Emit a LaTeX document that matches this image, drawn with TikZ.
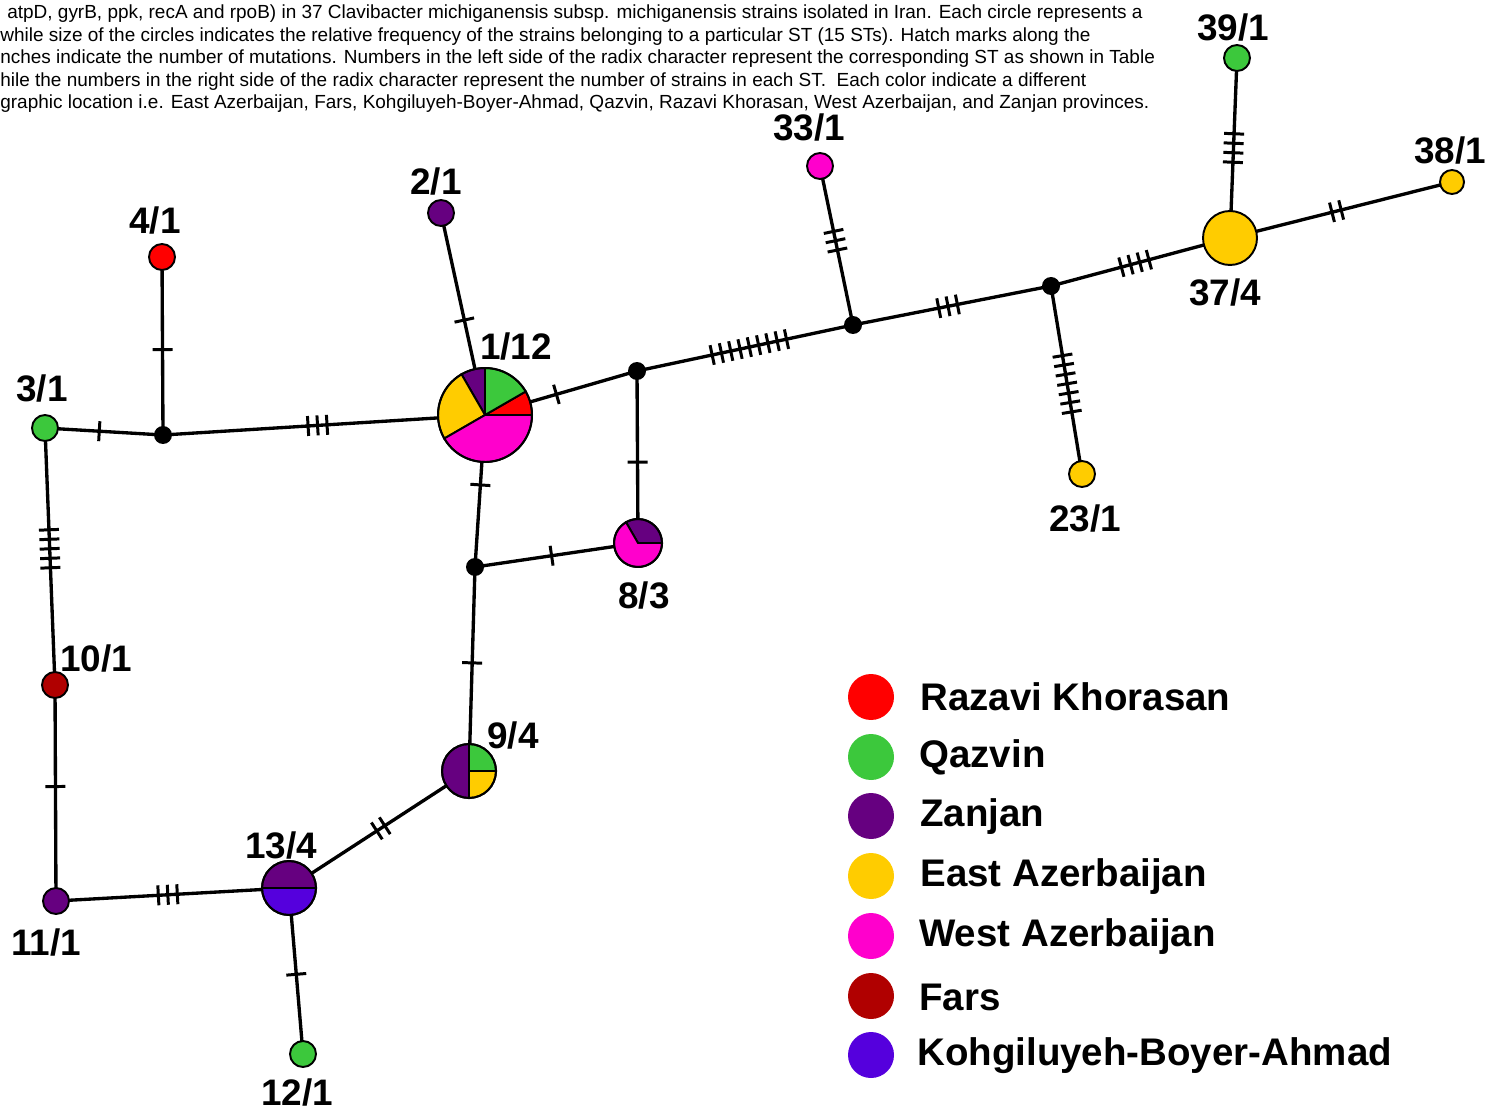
\documentclass[tikz,border=0pt]{standalone}
\usepackage{fontspec}
\setmainfont{Liberation Sans}
\usetikzlibrary{decorations.markings}
\definecolor{cRed}{HTML}{FF0000}
\definecolor{cGreen}{HTML}{3CC83C}
\definecolor{cPurple}{HTML}{660080}
\definecolor{cYellow}{HTML}{FFCC00}
\definecolor{cMagenta}{HTML}{FF00CC}
\definecolor{cFars}{HTML}{B00000}
\definecolor{cBlue}{HTML}{5500DD}
\newcommand\pieslice[5]{\filldraw[fill=#2, draw=black, line width=1.1pt] (#1) -- ++(#3:#5) arc[start angle=#3, end angle=#4, radius=#5] -- cycle;}
\begin{document}
\begin{tikzpicture}[x=0.02cm,y=0.02cm,
  edge/.style={line width=1.9pt},
  hatch/.style 2 args={postaction={decorate}, decoration={markings, mark=at position #1 with {\foreach \k in {1,...,#2}{\draw[line width=1.7pt] ({(\k-(#2+1)/2)*0.19cm},-0.2cm) -- ++(0cm,0.4cm);}}}},
  stnode/.style={circle, draw=black, line width=1.1pt, inner sep=0pt, minimum size=0.52cm},
  junc/.style={circle, fill=black, inner sep=0pt, minimum size=0.36cm},
  lbl/.style={font=\fontsize{21}{25}\selectfont\bfseries, inner sep=0pt},
  captxt/.style={font=\fontsize{10.8}{12}\selectfont, anchor=base west, inner sep=0pt},
  legdot/.style={circle, inner sep=0pt, minimum size=0.92cm},
  legtxt/.style={font=\fontsize{21.9}{25}\selectfont\bfseries, anchor=west, inner sep=0pt}]
\path[use as bounding box] (0,0) rectangle (1487,-1111);

% caption
\node[captxt] (cap1) at (7,-19) {atpD, gyrB, ppk, recA and rpoB) in 37 Clavibacter michiganensis subsp. michiganensis strains isolated in Iran. Each circle represents a};
\node[captxt] (cap2) at (0,-41.5) {while size of the circles indicates the relative frequency of the strains belonging to a particular ST (15 STs). Hatch marks along the};
\node[captxt] (cap3) at (0,-64) {nches indicate the number of mutations. Numbers in the left side of the radix character represent the corresponding ST as shown in Table};
\node[captxt] (cap4) at (0,-86.5) {hile the numbers in the right side of the radix character represent the number of strains in each ST.\ \ Each color indicate a different};
\node[captxt] (cap5) at (0,-109) {graphic location i.e. East Azerbaijan, Fars, Kohgiluyeh-Boyer-Ahmad, Qazvin, Razavi Khorasan, West Azerbaijan, and Zanjan provinces.};

% positions
\coordinate (p39) at (1237,-58);
\coordinate (p38) at (1452,-182);
\coordinate (p33) at (820,-166);
\coordinate (p37) at (1230,-238);
\coordinate (j4) at (1051,-286);
\coordinate (j3) at (853,-325);
\coordinate (p23) at (1082,-474);
\coordinate (j2) at (637,-371);
\coordinate (p1) at (485,-415);
\coordinate (p2) at (441,-213);
\coordinate (p4) at (162,-257);
\coordinate (j1) at (163,-435);
\coordinate (p3) at (45,-428);
\coordinate (p10) at (55,-685);
\coordinate (p11) at (56,-901);
\coordinate (p13) at (289,-888);
\coordinate (p12) at (303,-1054);
\coordinate (p9) at (469,-771);
\coordinate (j5) at (475,-567);
\coordinate (p8) at (638,-543);

% edges
\draw[edge, hatch={0.5}{4}] (p39) -- (p37);
\draw[edge, hatch={0.48}{2}] (p37) -- (p38);
\draw[edge, hatch={0.47}{3}] (p33) -- (j3);
\draw[edge, hatch={0.47}{4}] (j4) -- (p37);
\draw[edge, hatch={0.48}{3}] (j3) -- (j4);
\draw[edge, hatch={0.52}{9}] (j2) -- (j3);
\draw[edge, hatch={0.52}{7}] (j4) -- (p23);
\draw[edge, hatch={0.47}{1}] (p1) -- (j2);
\draw[edge, hatch={0.53}{1}] (j2) -- (p8);
\draw[edge, hatch={0.53}{1}] (p2) -- (p1);
\draw[edge, hatch={0.48}{3}] (j1) -- (p1);
\draw[edge, hatch={0.52}{1}] (p4) -- (j1);
\draw[edge, hatch={0.46}{1}] (p3) -- (j1);
\draw[edge, hatch={0.47}{5}] (p3) -- (p10);
\draw[edge, hatch={0.47}{1}] (p10) -- (p11);
\draw[edge, hatch={0.48}{3}] (p11) -- (p13);
\draw[edge, hatch={0.51}{2}] (p13) -- (p9);
\draw[edge, hatch={0.47}{1}] (j5) -- (p9);
\draw[edge, hatch={0.47}{1}] (j5) -- (p8);
\draw[edge, hatch={0.54}{1}] (j5) -- (p1);
\draw[edge, hatch={0.52}{1}] (p13) -- (p12);

% junctions
\node[junc] (nj1) at (j1) {};
\node[junc] (nj2) at (j2) {};
\node[junc] (nj3) at (j3) {};
\node[junc] (nj4) at (j4) {};
\node[junc] (nj5) at (j5) {};

% single-colour nodes
\node[stnode, fill=cGreen] (n39) at (p39) {};
\node[stnode, fill=cYellow, minimum size=0.48cm] (n38) at (p38) {};
\node[stnode, fill=cMagenta] (n33) at (p33) {};
\node[stnode, fill=cYellow, minimum size=1.08cm] (n37) at (p37) {};
\node[stnode, fill=cYellow] (n23) at (p23) {};
\node[stnode, fill=cPurple] (n2) at (p2) {};
\node[stnode, fill=cRed] (n4) at (p4) {};
\node[stnode, fill=cGreen] (n3) at (p3) {};
\node[stnode, fill=cFars] (n10) at (p10) {};
\node[stnode, fill=cPurple] (n11) at (p11) {};
\node[stnode, fill=cGreen] (n12) at (p12) {};

% pie 1/12
\pieslice{p1}{cRed}{0}{30}{47}
\pieslice{p1}{cGreen}{30}{90}{47}
\pieslice{p1}{cPurple}{90}{120}{47}
\pieslice{p1}{cYellow}{120}{210}{47}
\pieslice{p1}{cMagenta}{210}{360}{47}
\node[stnode, minimum size=1.88cm] (n1) at (p1) {};
% pie 8/3
\pieslice{p8}{cPurple}{0}{120}{24}
\pieslice{p8}{cMagenta}{120}{360}{24}
\node[stnode, minimum size=0.96cm] (n8) at (p8) {};
% pie 9/4
\pieslice{p9}{cGreen}{0}{90}{27}
\pieslice{p9}{cPurple}{90}{270}{27}
\pieslice{p9}{cYellow}{270}{360}{27}
\node[stnode, minimum size=1.08cm] (n9) at (p9) {};
% pie 13/4
\pieslice{p13}{cPurple}{0}{180}{27}
\pieslice{p13}{cBlue}{180}{360}{27}
\node[stnode, minimum size=1.08cm] (n13) at (p13) {};

% labels
\node[lbl] (l39) at (1233,-28) {39/1};
\node[lbl] (l38) at (1450,-151) {38/1};
\node[lbl] (l33) at (809,-128) {33/1};
\node[lbl] (l37) at (1225,-293) {37/4};
\node[lbl] (l23) at (1085,-518) {23/1};
\node[lbl] (l1) at (516,-347) {1/12};
\node[lbl] (l2) at (436,-182) {2/1};
\node[lbl] (l4) at (155,-221) {4/1};
\node[lbl] (l3) at (42,-389) {3/1};
\node[lbl] (l10) at (96,-658) {10/1};
\node[lbl] (l11) at (46,-942) {11/1};
\node[lbl] (l13) at (281,-845) {13/4};
\node[lbl] (l12) at (297,-1092) {12/1};
\node[lbl] (l9) at (513,-735) {9/4};
\node[lbl] (l8) at (644,-595) {8/3};

% legend
\node[legdot, fill=cRed] (d1) at (871,-697) {};
\node[legdot, fill=cGreen] (d2) at (871,-757) {};
\node[legdot, fill=cPurple] (d3) at (871,-816) {};
\node[legdot, fill=cYellow] (d4) at (871,-876) {};
\node[legdot, fill=cMagenta] (d5) at (871,-936) {};
\node[legdot, fill=cFars] (d6) at (871,-996) {};
\node[legdot, fill=cBlue] (d7) at (871,-1055) {};
\node[legtxt] (t1) at (920,-697) {Razavi Khorasan};
\node[legtxt] (t2) at (919,-757) {Qazvin};
\node[legtxt] (t3) at (920,-817) {Zanjan};
\node[legtxt] (t4) at (920,-877) {East Azerbaijan};
\node[legtxt] (t5) at (919,-937) {West Azerbaijan};
\node[legtxt] (t6) at (919,-997) {Fars};
\node[legtxt] (t7) at (917,-1056) {Kohgiluyeh-Boyer-Ahmad};
\end{tikzpicture}
\end{document}
